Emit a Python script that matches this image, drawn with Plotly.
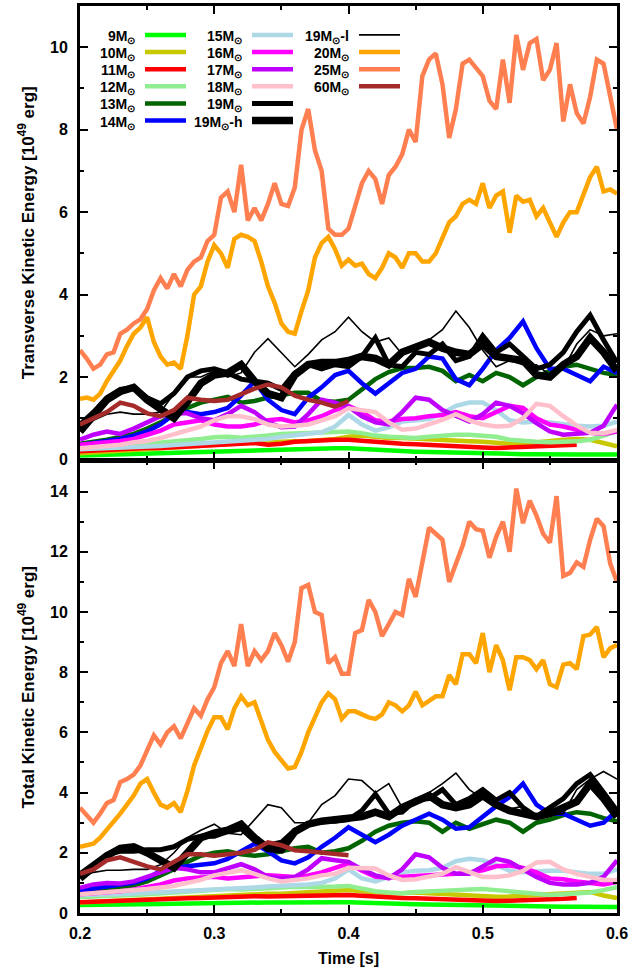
import plotly.graph_objects as go

# ---------------------------------------------------------------------------
# Time grids [s]
# ---------------------------------------------------------------------------
T = [round(0.20 + 0.01 * i, 2) for i in range(41)]
T_FINE = [round(0.200 + 0.005 * i, 3) for i in range(81)]

# ---------------------------------------------------------------------------
# Transverse kinetic energy [1e49 erg]  (upper panel)
# ---------------------------------------------------------------------------
tr_9M = [0.10, 0.11, 0.12, 0.13, 0.14, 0.15, 0.16, 0.17, 0.18, 0.19,
         0.20, 0.21, 0.22, 0.23, 0.24, 0.24, 0.25, 0.26, 0.26, 0.27,
         0.27, 0.25, 0.23, 0.21, 0.20, 0.19, 0.18, 0.17, 0.16, 0.15,
         0.15, 0.14, 0.14, 0.13, 0.13, 0.12, 0.12, 0.12, 0.12, 0.12,
         0.12]
tr_10M = [0.15, 0.17, 0.19, 0.21, 0.23, 0.25, 0.27, 0.29, 0.32, 0.35,
          0.37, 0.38, 0.40, 0.41, 0.42, 0.42, 0.44, 0.45, 0.47, 0.50,
          0.55, 0.58, 0.55, 0.52, 0.52, 0.50, 0.48, 0.46, 0.45, 0.44,
          0.43, 0.40, 0.38, 0.38, 0.42, 0.45, 0.48, 0.50, 0.48, 0.40,
          0.32]
tr_11M = [0.20, 0.22, 0.24, 0.25, 0.26, 0.28, 0.28, 0.30, 0.31, 0.33,
          0.35, 0.37, 0.39, 0.40, 0.36, 0.38, 0.43, 0.45, 0.47, 0.48,
          0.48, 0.45, 0.42, 0.40, 0.38, 0.37, 0.35, 0.33, 0.32, 0.30,
          0.29, 0.28, 0.29, 0.30, 0.31, 0.32, 0.34, 0.36, None, None,
          None]
tr_12M = [0.27, 0.28, 0.30, 0.32, 0.35, 0.38, 0.40, 0.42, 0.45, 0.50,
          0.54, 0.55, 0.53, 0.55, 0.58, 0.62, 0.63, 0.63, 0.64, 0.66,
          0.68, 0.64, 0.58, 0.55, 0.53, 0.52, 0.55, 0.58, 0.60, 0.60,
          0.58, 0.55, 0.48, 0.45, 0.43, 0.42, 0.42, 0.44, 0.48, 0.58,
          0.68]
tr_13M = [0.38, 0.42, 0.48, 0.55, 0.62, 0.75, 0.90, 1.08, 1.25, 1.38,
          1.45, 1.52, 1.38, 1.42, 1.50, 1.56, 1.62, 1.62, 1.42, 1.40,
          1.45, 1.70, 1.95, 2.12, 2.22, 2.22, 2.25, 2.15, 1.90, 2.05,
          1.90, 2.10, 2.00, 1.80, 2.00, 2.15, 2.25, 2.30, 2.20, 2.10,
          2.05]
tr_14M = [0.35, 0.40, 0.45, 0.50, 0.58, 0.68, 0.85, 1.10, 1.15, 1.10,
          1.15, 1.25, 1.55, 1.90, 1.45, 1.20, 1.10, 1.50, 1.75, 2.05,
          2.15, 1.85, 1.60, 1.85, 2.10, 2.20, 2.50, 2.45, 1.95, 1.80,
          2.20, 2.65, 2.95, 3.35, 2.70, 2.20, 2.20, 2.05, 1.90, 2.25,
          2.10]
tr_15M = [0.25, 0.26, 0.27, 0.28, 0.30, 0.31, 0.33, 0.35, 0.37, 0.38,
          0.40, 0.42, 0.45, 0.48, 0.50, 0.55, 0.58, 0.62, 0.66, 0.80,
          1.08, 0.85, 0.70, 0.78, 0.92, 0.95, 0.98, 1.12, 1.30, 1.38,
          1.38, 1.20, 0.95, 0.90, 0.92, 0.90, 0.85, 0.82, 0.80, 0.82,
          0.92]
tr_16M = [0.36, 0.38, 0.42, 0.45, 0.50, 0.60, 0.70, 0.85, 0.90, 0.95,
          0.85, 0.80, 0.80, 0.85, 0.95, 0.98, 0.90, 0.95, 1.05, 1.20,
          1.30, 1.15, 0.95, 0.92, 0.98, 1.00, 1.05, 1.08, 1.15, 1.05,
          1.00, 1.15, 1.30, 1.25, 1.00, 0.85, 0.80, 0.72, 0.65, 0.62,
          0.68]
tr_17M = [0.48, 0.60, 0.68, 0.62, 0.75, 0.90, 1.05, 1.12, 1.12, 1.00,
          0.95, 1.10, 1.30, 1.15, 0.90, 0.78, 0.80, 1.10, 1.45, 1.38,
          1.28, 1.05, 0.90, 0.85, 1.15, 1.50, 1.45, 1.20, 1.05, 0.92,
          1.10, 1.38, 1.30, 1.12, 0.88, 0.68, 0.60, 0.62, 0.65, 0.82,
          1.33]
tr_18M = [0.27, 0.30, 0.33, 0.36, 0.42, 0.45, 0.52, 0.62, 0.70, 0.80,
          0.95, 1.05, 1.05, 0.98, 0.85, 0.80, 0.82, 0.85, 0.95, 1.05,
          1.24, 1.20, 1.15, 0.90, 0.72, 0.75, 0.85, 0.96, 1.10, 0.95,
          0.85, 0.80, 0.82, 1.00, 1.35, 1.30, 1.05, 0.82, 0.65, 0.63,
          0.72]
tr_19M = [0.85, 1.15, 1.50, 1.70, 1.75, 1.50, 1.35, 1.60, 2.00, 2.15,
          2.20, 2.10, 1.95, 1.90, 1.85, 1.70, 2.10, 2.30, 2.20, 2.30,
          2.25, 2.50, 2.95, 2.30, 2.25, 2.60, 2.55, 2.80, 2.40, 2.50,
          3.00, 2.60, 2.80, 2.50, 2.20, 2.30, 2.60, 3.10, 3.50, 2.90,
          2.35]
tr_19Mh = [0.68, 1.10, 1.45, 1.65, 1.75, 1.45, 1.20, 1.00, 1.40, 1.85,
           2.05, 2.10, 2.30, 1.90, 1.60, 1.50, 2.05, 2.30, 2.35, 2.35,
           2.40, 2.50, 2.45, 2.30, 2.60, 2.75, 2.85, 2.70, 2.60, 2.55,
           2.80, 2.50, 2.45, 2.40, 2.05, 2.00, 2.30, 2.50, 2.95, 2.60,
           2.15]
tr_19Ml = [0.75, 0.95, 1.10, 1.15, 1.10, 1.10, 1.15, 1.60, 2.00, 2.00,
           2.15, 2.00, 2.10, 2.60, 2.93, 2.60, 2.25, 2.55, 2.90, 3.10,
           3.45, 3.10, 2.85, 2.95, 2.55, 2.70, 2.90, 3.15, 3.60, 3.20,
           2.65, 2.25, 2.40, 2.30, 2.30, 2.05, 2.20, 2.80, 3.15, 3.00,
           3.05]
tr_20M = [1.47, 1.50, 1.45, 1.60, 1.90, 2.15, 2.40, 2.75, 3.05, 3.20,
          3.45, 2.85, 2.50, 2.30, 2.35, 2.20, 3.00, 4.00, 4.20, 4.80,
          5.20, 5.00, 4.65, 5.35, 5.45, 5.40, 5.30, 4.80, 4.20, 3.80,
          3.30, 3.10, 3.05, 3.60, 4.10, 4.90, 5.25, 5.40, 5.10, 4.70,
          4.85, 4.70, 4.75, 4.50, 4.40, 4.65, 5.00, 4.90, 4.65, 5.00,
          5.00, 4.80, 4.80, 5.00, 5.40, 5.75, 5.90, 6.20, 6.30, 6.20,
          6.70, 6.10, 6.40, 6.50, 5.50, 6.40, 6.25, 6.30, 5.90, 6.10,
          5.75, 5.40, 5.75, 6.00, 6.00, 6.40, 6.85, 7.10, 6.50, 6.55,
          6.45]
tr_25M = [2.65, 2.45, 2.20, 2.30, 2.55, 2.60, 3.05, 3.15, 3.30, 3.40,
          3.65, 4.10, 4.40, 4.15, 4.50, 4.20, 4.60, 4.80, 4.90, 5.30,
          5.45, 6.35, 6.50, 6.00, 7.15, 5.80, 6.10, 5.80, 6.20, 6.70,
          6.20, 6.15, 6.60, 8.00, 8.50, 7.50, 7.00, 5.60, 5.45, 5.45,
          5.60, 6.20, 6.70, 7.00, 6.80, 6.20, 6.90, 7.10, 7.40, 8.00,
          7.70, 9.30, 9.70, 9.85, 9.10, 7.80, 8.50, 9.60, 9.70, 9.50,
          9.30, 8.70, 8.50, 9.70, 8.65, 10.30, 9.45, 10.10, 10.20, 9.20,
          9.45, 10.10, 8.20, 9.10, 8.40, 8.15, 8.80, 9.70, 9.60, 8.80,
          8.00]
tr_60M = [0.85, 1.00, 1.15, 1.38, 1.30, 1.12, 1.05, 1.20, 1.50, 1.45,
          1.42, 1.45, 1.58, 1.72, 1.82, 1.75, 1.55, 1.45, 1.38, 1.28,
          1.42, None, None, None, None, None, None, None, None, None,
          None, None, None, None, None, None, None, None, None, None,
          None]

# ---------------------------------------------------------------------------
# Total kinetic energy [1e49 erg]  (lower panel)
# ---------------------------------------------------------------------------
tot_9M = [0.27, 0.27, 0.28, 0.28, 0.29, 0.30, 0.30, 0.31, 0.32, 0.32,
          0.33, 0.34, 0.34, 0.35, 0.35, 0.35, 0.36, 0.36, 0.36, 0.36,
          0.36, 0.34, 0.32, 0.31, 0.30, 0.29, 0.28, 0.27, 0.27, 0.26,
          0.26, 0.25, 0.24, 0.23, 0.22, 0.22, 0.21, 0.21, 0.20, 0.20,
          0.20]
tot_10M = [0.35, 0.37, 0.40, 0.42, 0.44, 0.46, 0.48, 0.50, 0.52, 0.55,
           0.57, 0.60, 0.62, 0.63, 0.64, 0.64, 0.66, 0.68, 0.70, 0.73,
           0.76, 0.72, 0.68, 0.66, 0.66, 0.68, 0.66, 0.63, 0.60, 0.58,
           0.56, 0.54, 0.55, 0.57, 0.60, 0.62, 0.64, 0.66, 0.70, 0.58,
           0.50]
tot_11M = [0.36, 0.38, 0.40, 0.42, 0.43, 0.44, 0.45, 0.47, 0.49, 0.50,
           0.52, 0.53, 0.55, 0.56, 0.55, 0.56, 0.58, 0.60, 0.61, 0.62,
           0.60, 0.57, 0.54, 0.52, 0.50, 0.49, 0.47, 0.45, 0.43, 0.41,
           0.40, 0.40, 0.41, 0.42, 0.43, 0.45, 0.47, 0.50, None, None,
           None]
tot_12M = [0.53, 0.54, 0.56, 0.58, 0.60, 0.62, 0.65, 0.68, 0.72, 0.75,
           0.78, 0.80, 0.78, 0.80, 0.84, 0.86, 0.87, 0.86, 0.86, 0.88,
           0.90, 0.80, 0.72, 0.68, 0.66, 0.70, 0.73, 0.75, 0.76, 0.78,
           0.80, 0.76, 0.72, 0.67, 0.62, 0.60, 0.62, 0.65, 0.68, 0.76,
           0.86]
tot_13M = [0.75, 0.78, 0.80, 0.85, 0.92, 1.05, 1.25, 1.45, 1.70, 1.90,
           2.00, 2.05, 1.95, 1.90, 1.95, 2.05, 2.15, 2.20, 2.00, 2.05,
           2.15, 2.40, 2.70, 2.90, 3.00, 3.05, 3.00, 2.70, 3.00, 2.80,
           2.95, 3.10, 3.00, 2.70, 3.00, 3.10, 3.25, 3.35, 3.30, 3.15,
           3.05]
tot_14M = [0.75, 0.82, 0.90, 0.95, 1.00, 1.15, 1.40, 1.50, 1.55, 1.60,
           1.65, 1.80, 2.05, 2.30, 2.05, 1.75, 1.65, 1.85, 2.20, 2.50,
           2.85, 2.60, 2.35, 2.60, 2.90, 3.10, 3.30, 3.10, 2.80, 2.85,
           3.20, 3.55, 3.85, 4.30, 3.60, 3.30, 3.30, 3.10, 2.90, 3.00,
           3.40]
tot_15M = [0.60, 0.60, 0.62, 0.63, 0.65, 0.67, 0.70, 0.70, 0.72, 0.74,
           0.76, 0.78, 0.80, 0.85, 0.88, 0.90, 0.92, 0.95, 1.00, 1.15,
           1.45, 1.15, 1.05, 1.20, 1.35, 1.40, 1.42, 1.50, 1.72, 1.80,
           1.75, 1.60, 1.40, 1.35, 1.38, 1.40, 1.40, 1.35, 1.30, 1.30,
           1.45]
tot_16M = [0.62, 0.65, 0.68, 0.72, 0.78, 0.85, 0.95, 1.08, 1.15, 1.18,
           1.20, 1.15, 1.20, 1.22, 1.25, 1.22, 1.20, 1.25, 1.35, 1.50,
           1.65, 1.40, 1.20, 1.18, 1.20, 1.22, 1.25, 1.28, 1.30, 1.35,
           1.42, 1.55, 1.58, 1.50, 1.35, 1.15, 1.12, 1.05, 1.00, 0.95,
           1.03]
tot_17M = [0.84, 0.95, 1.00, 0.98, 1.05, 1.20, 1.38, 1.50, 1.45, 1.35,
           1.35, 1.50, 1.62, 1.45, 1.20, 1.15, 1.20, 1.45, 1.82, 1.75,
           1.70, 1.45, 1.25, 1.15, 1.45, 1.95, 1.85, 1.50, 1.30, 1.30,
           1.55, 1.80, 1.70, 1.45, 1.20, 1.00, 0.95, 0.95, 1.00, 1.20,
           1.75]
tot_18M = [0.62, 0.65, 0.68, 0.72, 0.75, 0.80, 0.85, 0.90, 1.00, 1.10,
           1.25, 1.35, 1.42, 1.30, 1.15, 1.05, 1.10, 1.15, 1.25, 1.30,
           1.50, 1.50, 1.48, 1.25, 1.10, 1.12, 1.20, 1.30, 1.52, 1.35,
           1.20, 1.20, 1.25, 1.40, 1.68, 1.70, 1.45, 1.30, 1.20, 1.10,
           1.10]
tot_19M = [1.30, 1.65, 1.95, 2.05, 2.05, 2.10, 2.10, 2.20, 2.45, 2.55,
           2.55, 2.70, 2.80, 2.40, 2.25, 2.35, 2.75, 2.95, 3.05, 3.05,
           3.10, 3.40, 3.95, 3.30, 3.35, 3.75, 3.80, 4.10, 3.60, 3.80,
           4.10, 3.75, 4.00, 3.50, 3.20, 3.50, 3.80, 4.30, 4.60, 4.00,
           3.40]
tot_19Mh = [1.15, 1.50, 1.90, 2.15, 2.20, 2.00, 1.75, 1.50, 2.00, 2.50,
            2.65, 2.75, 2.95, 2.50, 2.15, 2.10, 2.70, 2.95, 3.05, 3.10,
            3.15, 3.20, 3.35, 3.20, 3.50, 3.70, 3.90, 3.60, 3.50, 3.60,
            3.90, 3.60, 3.40, 3.30, 3.20, 3.30, 3.50, 3.70, 4.30, 3.80,
            3.20]
tot_19Ml = [1.20, 1.35, 1.42, 1.42, 1.45, 1.45, 1.60, 2.00, 2.50, 2.75,
            2.95, 2.65, 2.60, 3.10, 3.60, 3.50, 3.00, 3.00, 3.60, 3.90,
            4.45, 4.40, 4.00, 4.30, 3.50, 3.70, 4.00, 4.30, 4.65, 4.10,
            3.80, 3.65, 3.45, 3.55, 3.20, 3.25, 3.30, 4.10, 4.45, 4.70,
            4.45]
tot_20M = [2.20, 2.25, 2.30, 2.50, 2.75, 3.00, 3.30, 3.60, 3.90, 4.30,
           4.45, 4.00, 3.60, 3.50, 3.65, 3.35, 4.05, 4.90, 5.45, 6.05,
           6.50, 6.50, 6.10, 6.80, 7.20, 6.90, 7.00, 6.40, 5.75, 5.35,
           5.10, 4.80, 4.85, 5.35, 6.00, 6.50, 7.00, 7.30, 7.10, 6.45,
           6.70, 6.70, 6.60, 6.50, 6.45, 6.60, 7.00, 6.90, 6.70, 6.90,
           7.35, 6.90, 7.05, 7.20, 7.20, 7.90, 7.60, 8.60, 8.60, 8.30,
           9.30, 8.00, 8.90, 8.40, 7.40, 8.50, 8.50, 8.40, 8.10, 8.40,
           7.60, 7.50, 8.25, 8.30, 8.10, 9.20, 9.25, 9.50, 8.50, 8.80,
           8.90]
tot_25M = [3.50, 3.25, 3.00, 3.30, 3.65, 3.75, 4.35, 4.45, 4.60, 4.90,
           5.40, 5.90, 5.60, 6.00, 6.20, 5.80, 6.30, 6.80, 6.55, 7.10,
           7.50, 8.30, 8.70, 8.20, 9.60, 8.20, 8.70, 8.40, 8.70, 9.30,
           8.90, 8.35, 9.00, 10.80, 10.90, 10.00, 9.90, 8.30, 8.50, 7.95,
           7.95, 9.30, 9.40, 10.40, 10.00, 9.20, 9.60, 10.00, 9.90, 11.10,
           10.50, 11.65, 12.80, 12.60, 12.40, 11.00, 11.60, 12.20, 13.00, 12.75,
           12.70, 11.80, 12.50, 13.00, 12.00, 14.10, 12.95, 13.70, 13.20, 12.60,
           12.30, 13.85, 11.20, 11.30, 11.65, 11.50, 12.40, 13.10, 12.85, 11.60,
           11.00]
tot_60M = [1.30, 1.45, 1.75, 1.85, 1.70, 1.55, 1.45, 1.70, 1.95, 1.95,
           1.90, 1.95, 2.00, 2.10, 2.35, 2.25, 2.08, 2.05, 2.00, 1.98,
           1.92, None, None, None, None, None, None, None, None, None,
           None, None, None, None, None, None, None, None, None, None,
           None]

# ---------------------------------------------------------------------------
# Models: legend label, colour, line width, time grid, upper & lower data
# ---------------------------------------------------------------------------
MSUN = "<sub>⊙</sub>"
models = [
    ("9M" + MSUN, "#00ff00", 4.5, T, tr_9M, tot_9M),
    ("10M" + MSUN, "#c8c800", 4.5, T, tr_10M, tot_10M),
    ("11M" + MSUN, "#ff0000", 4.5, T, tr_11M, tot_11M),
    ("12M" + MSUN, "#90ee90", 4.5, T, tr_12M, tot_12M),
    ("13M" + MSUN, "#006400", 4.5, T, tr_13M, tot_13M),
    ("14M" + MSUN, "#0000ff", 4.5, T, tr_14M, tot_14M),
    ("15M" + MSUN, "#add8e6", 4.5, T, tr_15M, tot_15M),
    ("16M" + MSUN, "#ff00ff", 4.5, T, tr_16M, tot_16M),
    ("17M" + MSUN, "#c000ff", 4.5, T, tr_17M, tot_17M),
    ("18M" + MSUN, "#ffc0cb", 4.5, T, tr_18M, tot_18M),
    ("19M" + MSUN, "#000000", 5, T, tr_19M, tot_19M),
    ("19M" + MSUN + "-h", "#000000", 7.5, T, tr_19Mh, tot_19Mh),
    ("19M" + MSUN + "-l", "#000000", 1.6, T, tr_19Ml, tot_19Ml),
    ("20M" + MSUN, "#ffa500", 4.5, T_FINE, tr_20M, tot_20M),
    ("25M" + MSUN, "#ff7f50", 4.5, T_FINE, tr_25M, tot_25M),
    ("60M" + MSUN, "#a52a2a", 4.5, T, tr_60M, tot_60M),
]

for label, color, width, t, upper, lower in models:
    assert len(upper) == len(t) and len(lower) == len(t), label

fig = go.Figure()
for label, color, width, t, upper, lower in models:
    fig.add_trace(go.Scatter(x=t, y=upper, mode="lines", name=label,
                             line=dict(color=color, width=width),
                             xaxis="x2", yaxis="y2", showlegend=False))
    fig.add_trace(go.Scatter(x=t, y=lower, mode="lines", name=label,
                             line=dict(color=color, width=width),
                             xaxis="x", yaxis="y", showlegend=False))

# ---------------------------------------------------------------------------
# Axes: boxed frames with inward major/minor ticks on all four sides
# ---------------------------------------------------------------------------
FONT = "Liberation Sans, Arial, Helvetica, sans-serif"
tickfont = dict(family=FONT, size=16, color="black", weight="bold")
ytitlefont = dict(family=FONT, size=17, color="black", weight="bold")
xtitlefont = dict(family=FONT, size=16, color="black", weight="bold")

frame = dict(showline=True, linecolor="black", linewidth=3, mirror="allticks",
             ticks="inside", ticklen=8, tickwidth=2, tickcolor="black",
             showgrid=False, zeroline=False, tickfont=tickfont,
             minor=dict(ticks="inside", ticklen=4, tickwidth=2,
                        tickcolor="black", showgrid=False))

fig.update_layout(
    width=643, height=970,
    margin=dict(l=80, r=26, t=3, b=57),
    paper_bgcolor="white", plot_bgcolor="white",
    font=dict(family=FONT, color="black"),
    xaxis=dict(frame, domain=[0, 1], anchor="y", range=[0.2, 0.6],
               tick0=0.2, dtick=0.1, tickformat=".1f",
               ticklabelstandoff=4,
               minor=dict(frame["minor"], dtick=0.05),
               title=dict(text="Time [s]", font=xtitlefont, standoff=12)),
    xaxis2=dict(frame, domain=[0, 1], anchor="y2", range=[0.2, 0.6],
                matches="x", tick0=0.2, dtick=0.1, showticklabels=False,
                minor=dict(frame["minor"], dtick=0.05)),
    yaxis=dict(frame, domain=[0, 0.4978], anchor="x", range=[0, 15],
               tick0=0, dtick=2, minor=dict(frame["minor"], dtick=1),
               ticklabelstandoff=6,
               title=dict(text="Total Kinetic Energy [10<sup>49</sup> erg]",
                          font=ytitlefont, standoff=12)),
    yaxis2=dict(frame, domain=[0.5, 1], anchor="x2", range=[0, 11],
                tick0=0, dtick=2, minor=dict(frame["minor"], dtick=1),
                ticklabelstandoff=6,
                title=dict(text="Transverse Kinetic Energy [10<sup>49</sup> erg]",
                           font=ytitlefont, standoff=12)),
)

# ---------------------------------------------------------------------------
# Key in the upper panel: right-aligned label followed by a line sample
# ---------------------------------------------------------------------------
PLOT_L, PLOT_W, PLOT_B, PLOT_H = 80, 537, 913, 910


def px_x(px):
    return (px - PLOT_L) / PLOT_W


def px_y(py):
    return (PLOT_B - py) / PLOT_H


key_columns = [  # (text right edge, sample start, sample end) in pixels
    (137, 145, 186),
    (244, 252, 293),
    (351, 359, 400),
]
key_rows_per_column = [6, 6, 4]
ROW_TOP, ROW_STEP = 32, 17.2
legend_font = dict(family=FONT, size=14, color="black", weight="bold")

idx = 0
for (text_r, s0, s1), n_rows in zip(key_columns, key_rows_per_column):
    for r in range(n_rows):
        label, color, width, *_ = models[idx]
        yc = ROW_TOP + r * ROW_STEP
        fig.add_annotation(x=px_x(text_r), y=px_y(yc + 2), xref="paper",
                           yref="paper", text=label, showarrow=False,
                           xanchor="right", yanchor="middle",
                           font=legend_font)
        fig.add_shape(type="line", xref="paper", yref="paper",
                      x0=px_x(s0), x1=px_x(s1), y0=px_y(yc), y1=px_y(yc),
                      line=dict(color=color, width=width))
        idx += 1

fig.write_html("out.html")
